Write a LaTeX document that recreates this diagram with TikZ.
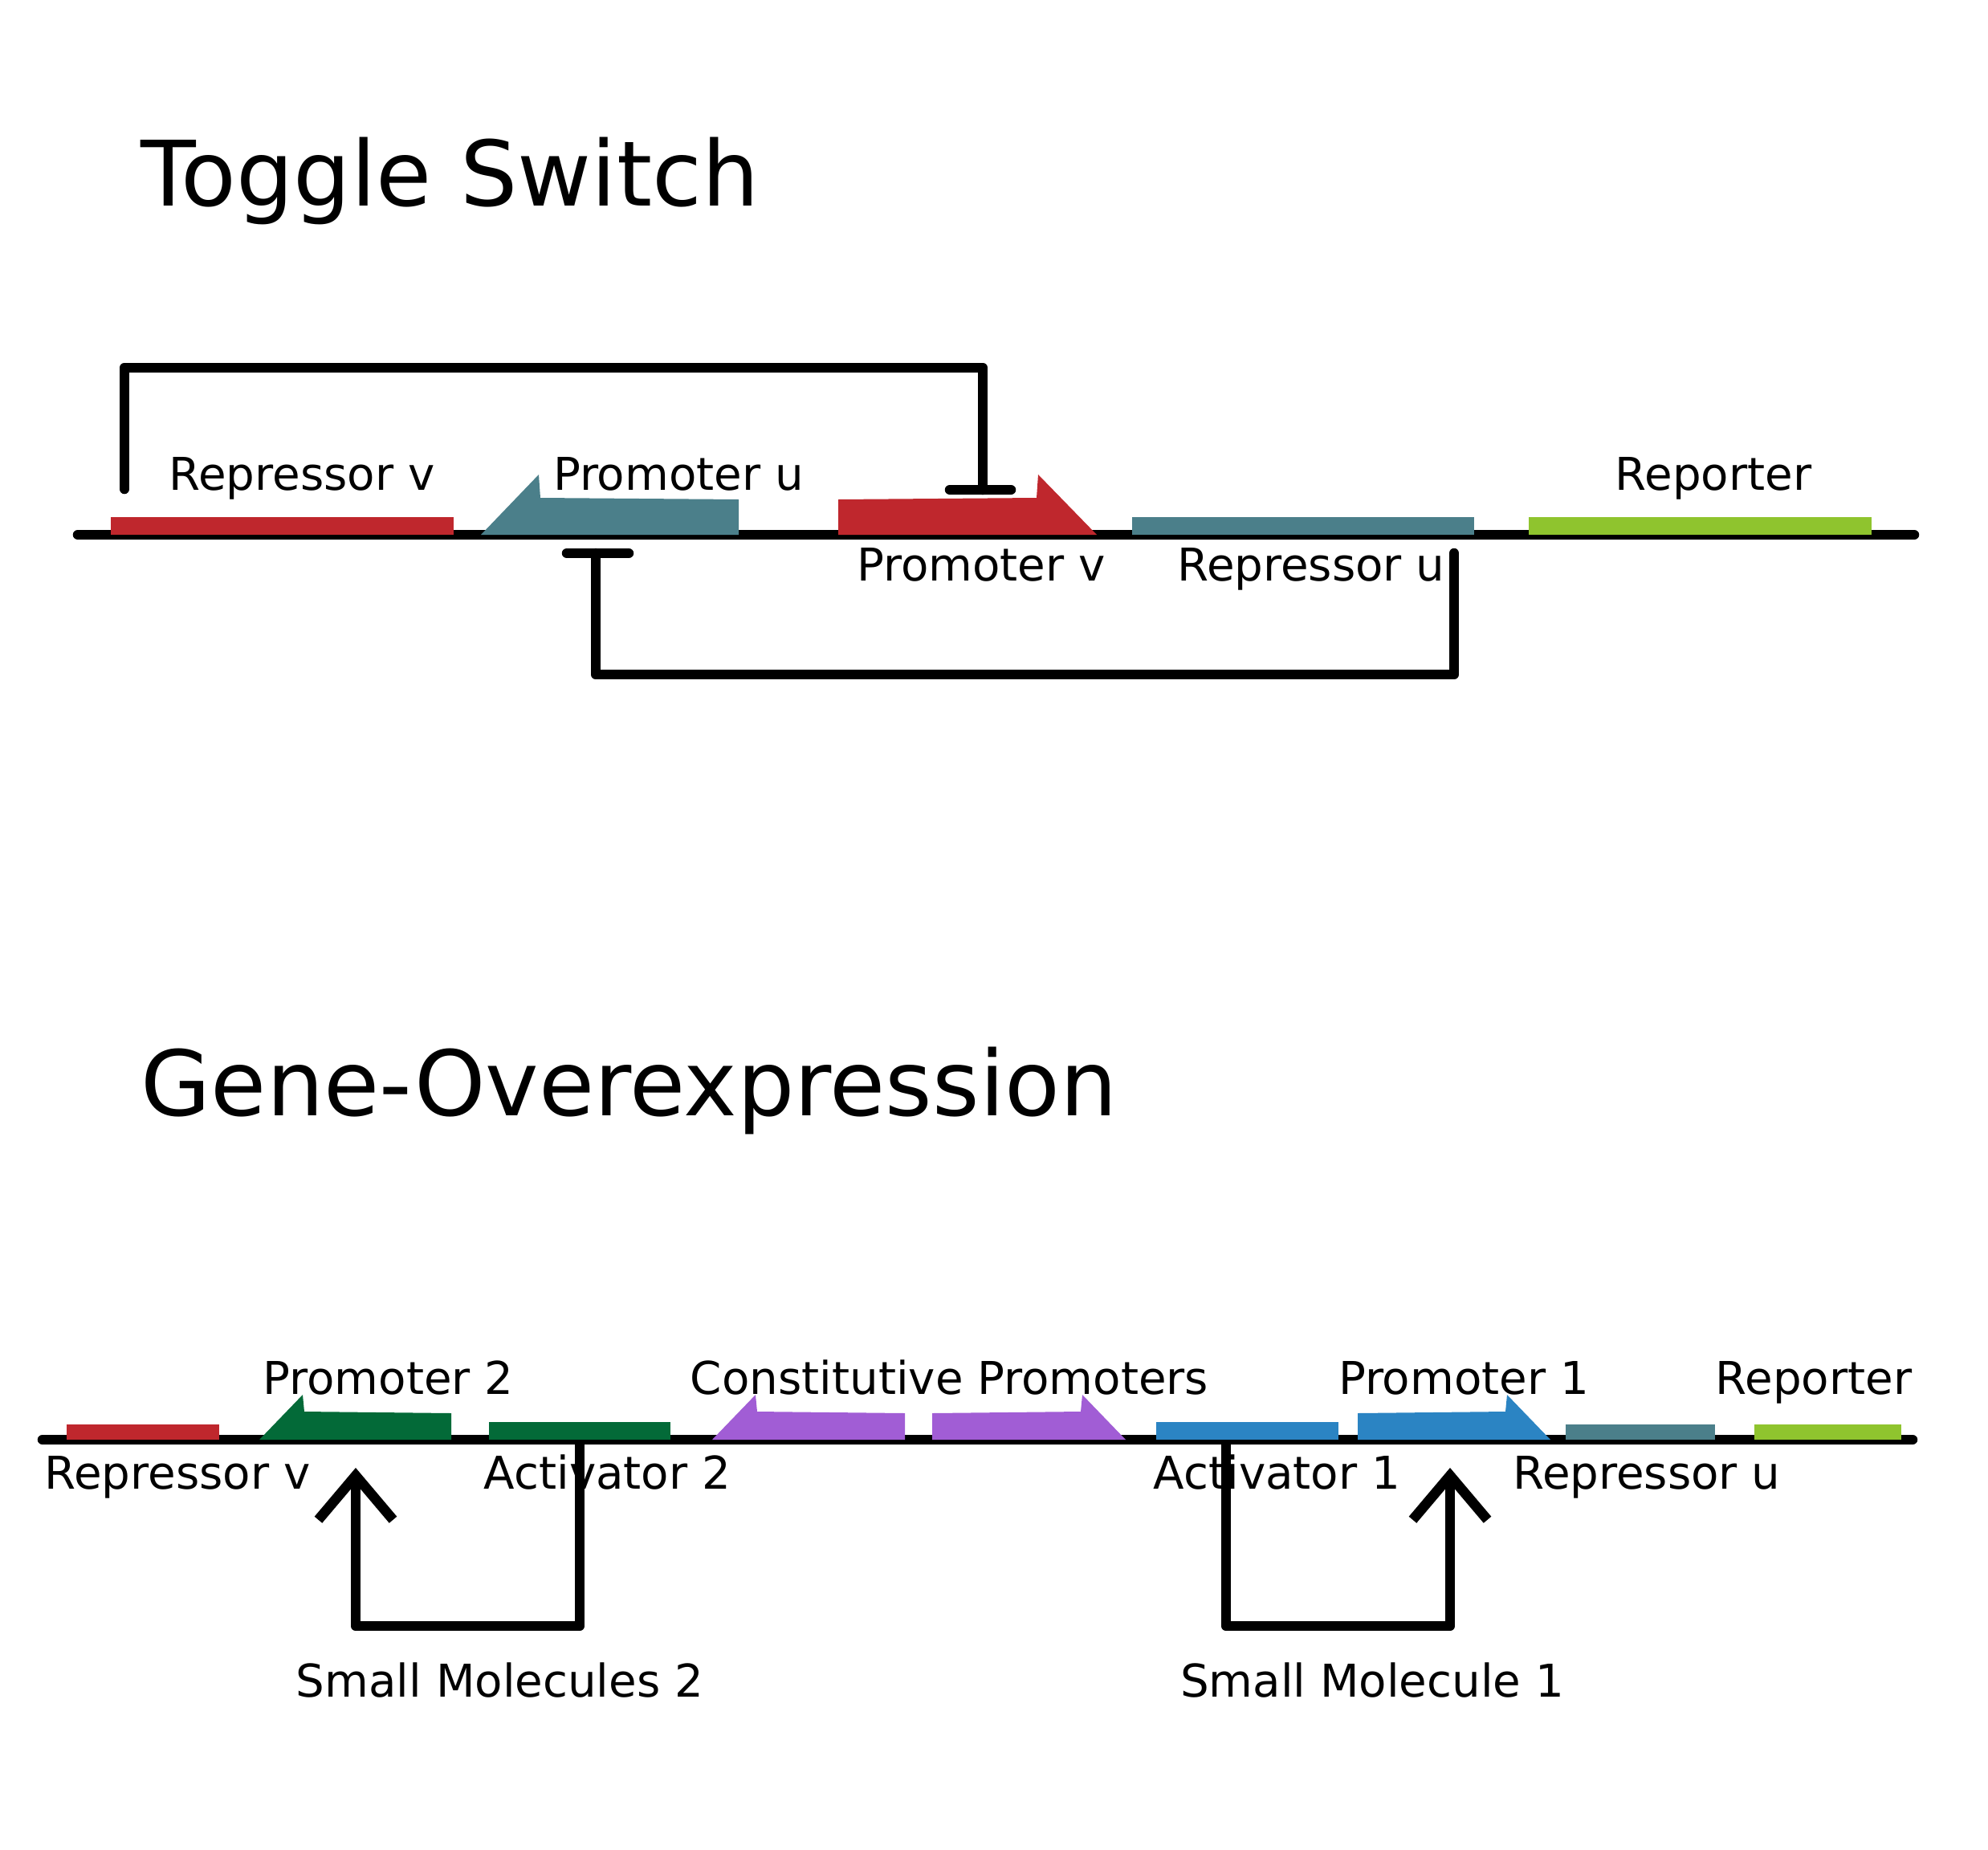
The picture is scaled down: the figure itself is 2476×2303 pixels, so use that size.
\documentclass[tikz,border=0pt]{standalone}
\usepackage{fontspec}
\setmainfont{DejaVu Sans}
\usetikzlibrary{arrows.meta}
\definecolor{partred}{RGB}{191,39,45}
\definecolor{partteal}{RGB}{75,127,138}
\definecolor{partlime}{RGB}{143,196,46}
\definecolor{partgreen}{RGB}{3,106,56}
\definecolor{partpurple}{RGB}{161,93,213}
\definecolor{partblue}{RGB}{43,132,195}
\tikzset{
  backbone/.style={line width=0.125cm,line cap=round},
  repress/.style={line width=0.125cm,line cap=round,line join=round},
  activate/.style={line width=0.125cm,line join=round,
    -{Straight Barb[length=0.55cm,width=0.93cm,line width=0.125cm,sharp]}},
  partlabel/.style={anchor=base,inner sep=0pt,font=\fontsize{16}{19}\selectfont},
  headline/.style={anchor=base west,inner sep=0pt,font=\fontsize{32}{38}\selectfont},
}
\begin{document}
\begin{tikzpicture}[x=0.01cm,y=-0.01cm]
\useasboundingbox (0,0) rectangle (2476,2303);

% toggle switch
\node[headline] (toggletitle) at (175,256) {Toggle Switch};
\coordinate (topleft) at (97,666);
\coordinate (topright) at (2384,666);
\draw[backbone] (topleft) -- (topright);

\fill[partred] (138,644) rectangle (565,666);
\fill[partteal] (599,666) -- (671,591) -- (673,620) -- (920,622) -- (920,666) -- cycle;
\fill[partred] (1044,666) -- (1044,622) -- (1291,620) -- (1293,591) -- (1366,666) -- cycle;
\fill[partteal] (1410,644) rectangle (1836,666);
\fill[partlime] (1904,644) rectangle (2331,666);

\node[partlabel] (repv) at (376,610) {Repressor v};
\node[partlabel] (promu) at (845,610) {Promoter u};
\node[partlabel] (promv) at (1222,723) {Promoter v};
\node[partlabel] (repu) at (1633,723) {Repressor u};
\node[partlabel] (report) at (2134,610) {Reporter};

\coordinate (vout) at (155,609);
\coordinate (vtop) at (155,458);
\coordinate (vin) at (1224,610);
\coordinate (vbarleft) at (1183,610);
\coordinate (vbarright) at (1259,610);
\draw[repress] (vout) -- (vtop) -- (vtop -| vin) -- (vin);
\draw[repress] (vbarleft) -- (vbarright);

\coordinate (uout) at (1811,689);
\coordinate (ubot) at (1811,840);
\coordinate (uin) at (742,689);
\coordinate (ubarleft) at (706,689);
\coordinate (ubarright) at (783,689);
\draw[repress] (uout) -- (ubot) -- (ubot -| uin) -- (uin);
\draw[repress] (ubarleft) -- (ubarright);

% gene overexpression
\node[headline] (genetitle) at (175,1389) {Gene-Overexpression};
\coordinate (lowleft) at (53,1793);
\coordinate (lowright) at (2382,1793);
\draw[backbone] (lowleft) -- (lowright);

\fill[partred] (83,1774) rectangle (273,1793);
\fill[partgreen] (323,1793) -- (377,1737) -- (379,1758) -- (562,1760) -- (562,1793) -- cycle;
\fill[partgreen] (609,1771) rectangle (835,1793);
\fill[partpurple] (887,1793) -- (941,1737) -- (943,1758) -- (1127,1760) -- (1127,1793) -- cycle;
\fill[partpurple] (1161,1793) -- (1161,1760) -- (1346,1758) -- (1348,1737) -- (1402,1793) -- cycle;
\fill[partblue] (1440,1771) rectangle (1667,1793);
\fill[partblue] (1691,1793) -- (1691,1760) -- (1875,1758) -- (1877,1737) -- (1931,1793) -- cycle;
\fill[partteal] (1950,1774) rectangle (2136,1793);
\fill[partlime] (2185,1774) rectangle (2368,1793);

\node[partlabel] (prom2) at (483.5,1736) {Promoter 2};
\node[partlabel] (constprom) at (1182.5,1736) {Constitutive Promoters};
\node[partlabel] (prom1) at (1823,1736) {Promoter 1};
\node[partlabel] (report2) at (2259,1736) {Reporter};
\node[partlabel] (repv2) at (221,1854) {Repressor v};
\node[partlabel] (act2) at (756.5,1854) {Activator 2};
\node[partlabel] (act1) at (1590.5,1854) {Activator 1};
\node[partlabel] (repu2) at (2051,1854) {Repressor u};
\node[partlabel] (small2) at (622.5,2113) {Small Molecules 2};
\node[partlabel] (small1) at (1709,2113) {Small Molecule 1};

\coordinate (act2out) at (722,1793);
\coordinate (act2bot) at (722,2025);
\coordinate (prom2in) at (443,1828);
\draw[activate] (act2out) -- (act2bot) -- (act2bot -| prom2in) -- (prom2in);

\coordinate (act1out) at (1527,1793);
\coordinate (act1bot) at (1527,2025);
\coordinate (prom1in) at (1806,1828);
\draw[activate] (act1out) -- (act1bot) -- (act1bot -| prom1in) -- (prom1in);
\end{tikzpicture}
\end{document}
